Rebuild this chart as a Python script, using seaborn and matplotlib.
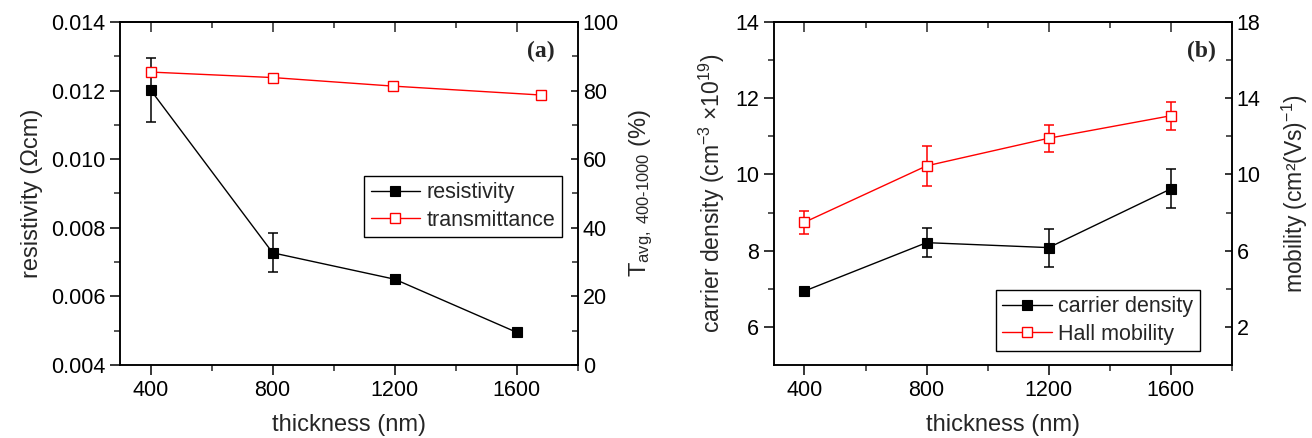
import numpy as np
import matplotlib
matplotlib.use("Agg")
import matplotlib.pyplot as plt
import seaborn as sns
from matplotlib.ticker import MultipleLocator

# data
thickness = [400, 800, 1200, 1600]
resistivity = [0.01202, 0.00727, 0.00650, 0.00495]
resistivity_err = [0.00094, 0.00057, 0.00012, 0.0]
trans_thickness = [400, 800, 1195, 1680]
transmittance = [85.4, 83.8, 81.3, 78.7]

carrier_density = [6.94, 8.21, 8.08, 9.62]
carrier_err = [0.0, 0.38, 0.50, 0.51]
hall_mobility = [7.49, 10.45, 11.90, 13.08]
hall_err = [0.60, 1.05, 0.72, 0.74]

sns.set_theme(style="ticks")
plt.rcParams["font.family"] = ["Liberation Sans", "DejaVu Sans"]
plt.rcParams["mathtext.fontset"] = "custom"
plt.rcParams["mathtext.rm"] = "Liberation Sans"
plt.rcParams["mathtext.it"] = "Liberation Sans"
plt.rcParams["axes.linewidth"] = 1.1
plt.rcParams["axes.edgecolor"] = "black"

FS = 15.5    # tick labels / legend
LFS = 17     # axis labels

fig = plt.figure(figsize=(13.12, 4.38), dpi=100)
ax_a = fig.add_axes([0.0915, 0.1667, 0.349, 0.7831])
ax_b = fig.add_axes([0.5899, 0.1667, 0.349, 0.7831])


def style_axes(ax, ax2):
    ax.set_xlim(300, 1800)
    ax.set_xticks([400, 800, 1200, 1600])
    ax.xaxis.set_minor_locator(MultipleLocator(200))
    ax.tick_params(axis="both", which="major", direction="out", length=7, width=1.1,
                   labelsize=FS, colors="black", top=False, right=False)
    ax.tick_params(axis="both", which="minor", direction="out", length=4, width=1.1,
                   top=False, right=False)
    ax2.tick_params(axis="y", which="major", direction="in", length=5, width=1.1,
                    labelsize=FS, colors="black")
    ax2.tick_params(axis="y", which="minor", direction="in", length=4, width=1.1)
    top = ax.secondary_xaxis("top")
    top.set_xticks([400, 800, 1200, 1600])
    top.xaxis.set_minor_locator(MultipleLocator(200))
    top.tick_params(which="major", direction="in", length=7, width=1.1, labeltop=False)
    top.tick_params(which="minor", direction="in", length=4, width=1.1)
    for a in (ax, ax2):
        for s in a.spines.values():
            s.set_visible(True)
            s.set_linewidth(1.1)
            s.set_color("black")
    ax.set_xlabel("thickness (nm)", fontsize=LFS, labelpad=10)


def add_legend(ax, handles, labels, anchor):
    leg = ax.legend(handles, labels, loc="upper left", bbox_to_anchor=anchor,
                    borderaxespad=0, fontsize=FS, frameon=True, fancybox=False,
                    edgecolor="black", framealpha=1, handlelength=2.3,
                    handletextpad=0.3, borderpad=0.3, labelspacing=0.3)
    leg.get_frame().set_linewidth(1.0)


# ---------------- panel (a) ----------------
ax_a2 = ax_a.twinx()
ax_a.errorbar(thickness, resistivity, yerr=resistivity_err, fmt="none",
              ecolor="black", elinewidth=1.1, capsize=3.5, capthick=1.1)
sns.lineplot(x=thickness, y=resistivity, ax=ax_a, color="black", lw=1.0,
             marker="s", markersize=7.5, markerfacecolor="black",
             markeredgecolor="black", markeredgewidth=0.8)
h_res = ax_a.lines[-1]
sns.lineplot(x=trans_thickness, y=transmittance, ax=ax_a2, color="red", lw=1.0,
             marker="s", markersize=7.5, markerfacecolor="white",
             markeredgecolor="red", markeredgewidth=1.0)
h_tr = ax_a2.lines[-1]

ax_a.set_ylim(0.004, 0.014)
ax_a.yaxis.set_major_locator(MultipleLocator(0.002))
ax_a.yaxis.set_minor_locator(MultipleLocator(0.001))
ax_a.yaxis.set_major_formatter(matplotlib.ticker.FormatStrFormatter("%.3f"))
ax_a2.set_ylim(0, 100)
ax_a2.yaxis.set_major_locator(MultipleLocator(20))
ax_a2.yaxis.set_minor_locator(MultipleLocator(10))
style_axes(ax_a, ax_a2)
ax_a.set_ylabel("resistivity (Ωcm)", fontsize=LFS, labelpad=6)
ax_a2.set_ylabel(r"T$_{\mathrm{avg,\ 400\text{-}1000}}$ (%)", fontsize=LFS, labelpad=6)
ax_a.text(0.919, 0.913, "(a)", transform=ax_a.transAxes, ha="center", va="center",
          fontsize=17, fontweight="bold", family="Liberation Serif")
add_legend(ax_a2, [h_res, h_tr], ["resistivity", "transmittance"], (0.533, 0.552))

# ---------------- panel (b) ----------------
ax_b2 = ax_b.twinx()
ax_b.errorbar(thickness, carrier_density, yerr=carrier_err, fmt="none",
              ecolor="black", elinewidth=1.1, capsize=3.5, capthick=1.1)
sns.lineplot(x=thickness, y=carrier_density, ax=ax_b, color="black", lw=1.0,
             marker="s", markersize=7.5, markerfacecolor="black",
             markeredgecolor="black", markeredgewidth=0.8)
h_cd = ax_b.lines[-1]
ax_b2.errorbar(thickness, hall_mobility, yerr=hall_err, fmt="none",
               ecolor="red", elinewidth=1.1, capsize=3.5, capthick=1.1)
sns.lineplot(x=thickness, y=hall_mobility, ax=ax_b2, color="red", lw=1.0,
             marker="s", markersize=7, markerfacecolor="white",
             markeredgecolor="red", markeredgewidth=1.0)
h_hm = ax_b2.lines[-1]

ax_b.set_ylim(5, 14)
ax_b.set_yticks([6, 8, 10, 12, 14])
ax_b.set_yticks([7, 9, 11, 13], minor=True)
ax_b2.set_ylim(0, 18)
ax_b2.set_yticks([2, 6, 10, 14, 18])
ax_b2.set_yticks([4, 8, 12, 16], minor=True)
style_axes(ax_b, ax_b2)
ax_b.set_ylabel(r"carrier density (cm$^{-3}$ ×10$^{19}$)", fontsize=16.5, labelpad=6)
ax_b2.set_ylabel(r"mobility (cm²(Vs)$^{-1}$)", fontsize=16.5, labelpad=14)
ax_b.text(0.934, 0.913, "(b)", transform=ax_b.transAxes, ha="center", va="center",
          fontsize=17, fontweight="bold", family="Liberation Serif")
add_legend(ax_b2, [h_cd, h_hm], ["carrier density", "Hall mobility"], (0.485, 0.219))

fig.savefig("out.png", dpi=100)
plt.close(fig)
